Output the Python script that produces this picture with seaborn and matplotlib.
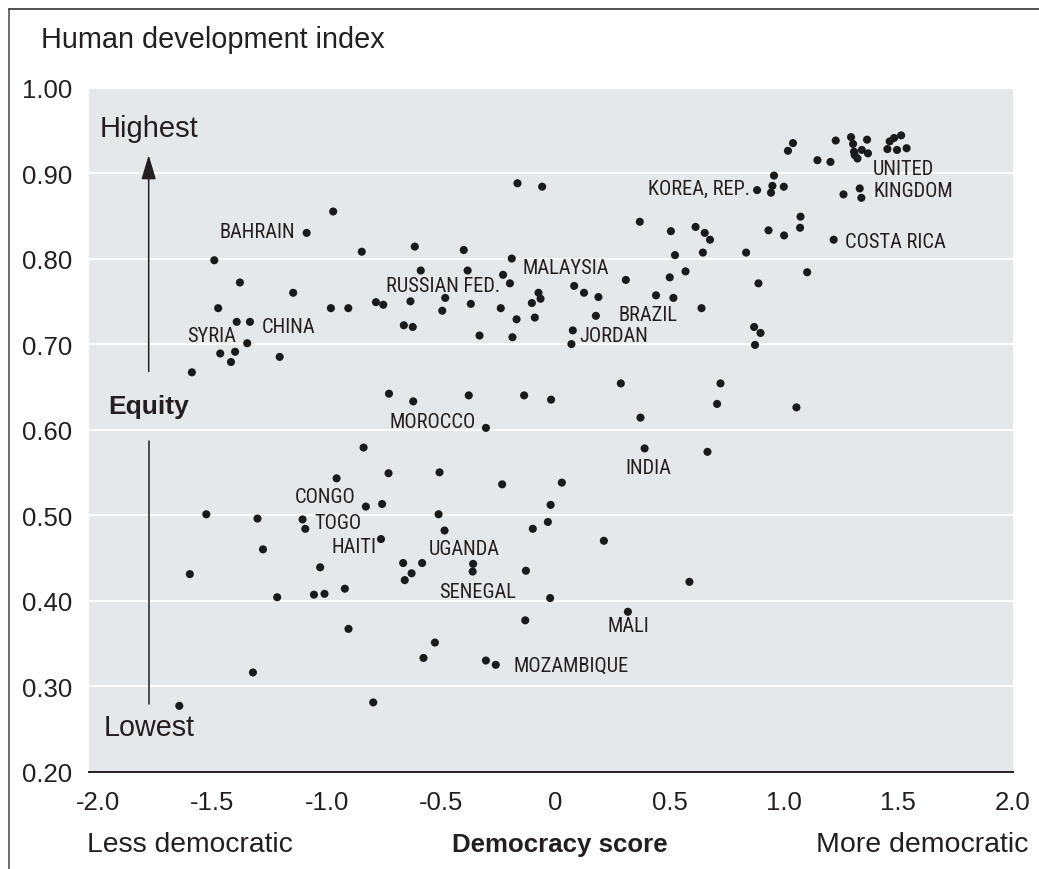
import matplotlib
matplotlib.use("Agg")
import matplotlib.pyplot as plt
from matplotlib.lines import Line2D
from matplotlib import font_manager as fm
from matplotlib.textpath import TextPath
import seaborn as sns
import pandas as pd

# ---------------- data ----------------
democracy_score = [
    -1.590, -1.492, -1.475, -1.466, -1.419, -1.401, -1.394, -1.380, -1.348, -1.336,
    -1.206, -1.147, -1.088, -0.982, -0.972, -0.906, -0.847, -0.785, -0.753, -0.663,
    -0.624, -0.634, -0.615, -0.589, -0.495, -0.482, -0.401, -0.384, -0.370, -0.332,
    -0.239, -0.229, -0.199, -0.191, -0.188, -0.170, -0.166, -0.103, -0.090, -0.074,
    -0.065, -0.058, 0.070, 0.076, 0.082, 0.125, 0.177, 0.188, 0.308, 0.369,
    0.440, 0.500, 0.505, 0.516, 0.523, 0.569, 0.613, 0.639, 0.645, 0.653,
    0.676, 0.834, 0.869, 0.873, 0.897, 0.888, 0.932, 1.000, 1.072, 1.070,
    1.101, 1.217, 0.882, 0.943, 0.949, 0.956, 0.999, 1.017, 1.039, 1.146,
    1.203, 1.226, 1.260, 1.293, 1.302, 1.306, 1.309, 1.321, 1.340, 1.367,
    1.363, 1.331, 1.338, 1.452, 1.462, 1.481, 1.512, 1.494, 1.536,
    -0.728, -0.622, -0.379, -0.304, -0.137, -0.019, 0.286, 0.372, 0.707, 0.722,
    1.054, 0.390, 0.665,
    -0.839, -0.957, -0.730, -0.507, -0.233, 0.028, -0.829, -0.758, -1.527, -1.303,
    -1.106, -1.094, -0.511, -0.485, -0.021, -0.033, -0.099, 0.212, -1.279, -0.763,
    -0.666, -0.583, -0.629, -0.659, -0.360, -0.362, -1.029, -1.599, -1.217, -1.056,
    -1.010, -0.921, -0.129, 0.586, -0.023, 0.317, -0.132, -0.905, -0.527, -0.577,
    -0.304, -0.261, -1.323, -1.645, -0.797,
]
hdi = [
    0.667, 0.798, 0.742, 0.689, 0.679, 0.691, 0.726, 0.772, 0.701, 0.726,
    0.685, 0.760, 0.830, 0.742, 0.855, 0.742, 0.808, 0.749, 0.746, 0.722,
    0.720, 0.750, 0.814, 0.786, 0.739, 0.754, 0.810, 0.786, 0.747, 0.710,
    0.742, 0.781, 0.771, 0.800, 0.708, 0.729, 0.888, 0.748, 0.731, 0.760,
    0.753, 0.884, 0.700, 0.716, 0.768, 0.760, 0.733, 0.755, 0.775, 0.843,
    0.757, 0.778, 0.832, 0.754, 0.804, 0.785, 0.837, 0.742, 0.807, 0.830,
    0.822, 0.807, 0.720, 0.699, 0.713, 0.771, 0.833, 0.827, 0.849, 0.836,
    0.784, 0.822, 0.880, 0.877, 0.885, 0.897, 0.884, 0.926, 0.935, 0.915,
    0.913, 0.938, 0.875, 0.942, 0.934, 0.925, 0.921, 0.917, 0.927, 0.923,
    0.939, 0.882, 0.871, 0.928, 0.937, 0.941, 0.944, 0.927, 0.929,
    0.642, 0.633, 0.640, 0.602, 0.640, 0.635, 0.654, 0.614, 0.630, 0.654,
    0.626, 0.578, 0.574,
    0.579, 0.543, 0.549, 0.550, 0.536, 0.538, 0.510, 0.513, 0.501, 0.496,
    0.495, 0.484, 0.501, 0.482, 0.512, 0.492, 0.484, 0.470, 0.460, 0.472,
    0.444, 0.444, 0.432, 0.424, 0.443, 0.434, 0.439, 0.431, 0.404, 0.407,
    0.408, 0.414, 0.435, 0.422, 0.403, 0.387, 0.377, 0.367, 0.351, 0.333,
    0.330, 0.325, 0.316, 0.277, 0.281,
]

country_labels = ["BAHRAIN", "SYRIA", "CHINA", "RUSSIAN FED.", "MALAYSIA", "BRAZIL",
                  "JORDAN", "KOREA, REP.", "UNITED", "KINGDOM", "COSTA RICA",
                  "MOROCCO", "INDIA", "CONGO", "TOGO", "HAITI", "UGANDA",
                  "SENEGAL", "MALI", "MOZAMBIQUE"]

x_ticks = [-2.0, -1.5, -1.0, -0.5, 0.0, 0.5, 1.0, 1.5, 2.0]
x_tick_labels = ["-2.0", "-1.5", "-1.0", "-0.5", "0", "0.5", "1.0", "1.5", "2.0"]
y_ticks = [0.20, 0.30, 0.40, 0.50, 0.60, 0.70, 0.80, 0.90, 1.00]
y_tick_labels = ["0.20", "0.30", "0.40", "0.50", "0.60", "0.70", "0.80", "0.90", "1.00"]

# ---------------- label placement (positions only) ----------------
label_pos = {
    "BAHRAIN": (-1.139, 0.832, "right"),
    "SYRIA": (-1.613, 0.710, "left"),
    "CHINA": (-1.285, 0.720, "left"),
    "RUSSIAN FED.": (-0.742, 0.768, "left"),
    "MALAYSIA": (-0.144, 0.789, "left"),
    "BRAZIL": (0.277, 0.735, "left"),
    "JORDAN": (0.104, 0.7105, "left"),
    "KOREA, REP.": (0.850, 0.882, "right"),
    "UNITED": (1.389, 0.905, "left"),
    "KINGDOM": (1.389, 0.880, "left"),
    "COSTA RICA": (1.268, 0.820, "left"),
    "MOROCCO": (-0.724, 0.610, "left"),
    "INDIA": (0.305, 0.556, "left"),
    "CONGO": (-1.139, 0.522, "left"),
    "TOGO": (-1.052, 0.491, "left"),
    "HAITI": (-0.979, 0.463, "left"),
    "UGANDA": (-0.554, 0.461, "left"),
    "SENEGAL": (-0.509, 0.411, "left"),
    "MALI": (0.226, 0.371, "left"),
    "MOZAMBIQUE": (-0.185, 0.324, "left"),
}

TXT = "#231f20"
BG = "#e6e7e8"
SANS = ["Liberation Sans", "DejaVu Sans"]


def pick_narrow_font():
    """Find an installed condensed/narrow regular sans font, if any."""
    best = None
    best_rank = 99
    for f in fm.fontManager.ttflist:
        name = f.name
        fname = f.fname.lower()
        if f.style != "normal":
            continue
        if any(k in fname for k in ("bold", "italic", "oblique", "light", "thin",
                                     "black", "medium", "semibold", "extra")):
            continue
        stretch = str(f.stretch).lower()
        is_narrow = ("narrow" in name.lower() or "condensed" in name.lower()
                     or stretch in ("condensed", "extra-condensed", "ultra-condensed")
                     or "narrow" in fname or "condensed" in fname)
        if not is_narrow or "semicondensed" in fname or "semi" in stretch:
            continue
        if "liberation" in name.lower():
            rank = 0
        elif "roboto" in name.lower():
            rank = 1
        elif "open" in name.lower():
            rank = 2
        elif "noto" in name.lower():
            rank = 3
        else:
            rank = 5
        if rank < best_rank:
            best_rank, best = rank, f.fname
    return best


narrow_path = pick_narrow_font()
if narrow_path:
    label_fp = fm.FontProperties(fname=narrow_path)
else:
    label_fp = fm.FontProperties(family="Liberation Sans")

# size labels so that their width / cap height match the reference lettering
w1 = TextPath((0, 0), "MOZAMBIQUE", size=1, prop=label_fp).get_extents().width
h1 = TextPath((0, 0), "H", size=1, prop=label_fp).get_extents().height
size_by_width = 82.0 / w1
size_by_cap = 10.4 / h1
label_size = min(size_by_width, size_by_cap)
label_fp.set_size(label_size)

sns.set_style("white")
plt.rcParams["font.family"] = SANS

df = pd.DataFrame({"democracy": democracy_score, "hdi": hdi})

fig = plt.figure(figsize=(10.39, 8.70), dpi=100)
ax = fig.add_axes([89 / 1039, 1 - 772.7 / 870, (1012.7 - 89) / 1039, (772.7 - 88.5) / 870])
ax.set_facecolor(BG)

sns.scatterplot(data=df, x="democracy", y="hdi", ax=ax, s=34, color="#1a1a1a",
                edgecolor="none", linewidth=0, zorder=3, legend=False)

ax.set_xlim(-2.04, 2.0)
ax.set_ylim(0.20, 1.00)
ax.set_xticks(x_ticks)
ax.set_xticklabels(x_tick_labels)
ax.set_yticks(y_ticks)
ax.set_yticklabels(y_tick_labels)
ax.tick_params(axis="both", length=0, labelsize=18.5, colors=TXT)
ax.tick_params(axis="x", pad=13)
ax.tick_params(axis="y", pad=12)
ax.set_xlabel("")
ax.set_ylabel("")

ax.grid(axis="y", color="white", linewidth=1.3, zorder=0)
ax.grid(axis="x", visible=False)
ax.set_axisbelow(True)
for side in ["top", "right", "left"]:
    ax.spines[side].set_visible(False)
ax.spines["bottom"].set_color("#231f20")
ax.spines["bottom"].set_linewidth(1.4)

# country labels
for name in country_labels:
    lx, ly, ha = label_pos[name]
    ax.text(lx, ly, name, ha=ha, va="center", color=TXT,
            fontproperties=label_fp, zorder=4)

# equity arrow annotations
ARROW_X = -1.779
ax.annotate("", xy=(ARROW_X, 0.921), xytext=(ARROW_X, 0.668),
            arrowprops=dict(arrowstyle="-|>,head_length=1.5,head_width=0.45",
                            mutation_scale=10, lw=1.1, color=TXT,
                            shrinkA=0, shrinkB=0))
ax.plot([ARROW_X, ARROW_X], [0.587, 0.279], color=TXT, lw=1.1, zorder=2)
ax.text(-1.992, 0.9526, "Highest", ha="left", va="center", fontsize=21, color=TXT)
ax.text(-1.957, 0.628, "Equity", ha="left", va="center", fontsize=19,
        fontweight="bold", color=TXT)
ax.text(-1.975, 0.2523, "Lowest", ha="left", va="center", fontsize=20.7, color=TXT)

# figure texts
fig.text(41 / 1039, 1 - 40 / 870, "Human development index", ha="left", va="center",
         fontsize=20.8, color=TXT)
fig.text(87 / 1039, 1 - 851.7 / 870, "Less democratic", ha="left", va="baseline",
         fontsize=20.3, color=TXT)
fig.text(560 / 1039, 1 - 851.7 / 870, "Democracy score", ha="center", va="baseline",
         fontsize=18.6, fontweight="bold", color=TXT)
fig.text(1028 / 1039, 1 - 851.7 / 870, "More democratic", ha="right", va="baseline",
         fontsize=20.5, color=TXT)

# frame lines (left and top)
fig.add_artist(Line2D([9 / 1039, 9 / 1039], [0, 1 - 10 / 870], transform=fig.transFigure,
                      color="#555555", lw=1.2))
fig.add_artist(Line2D([9 / 1039, 1], [1 - 10 / 870, 1 - 10 / 870], transform=fig.transFigure,
                      color="#333333", lw=1.2))

fig.savefig("out.png", dpi=100)
